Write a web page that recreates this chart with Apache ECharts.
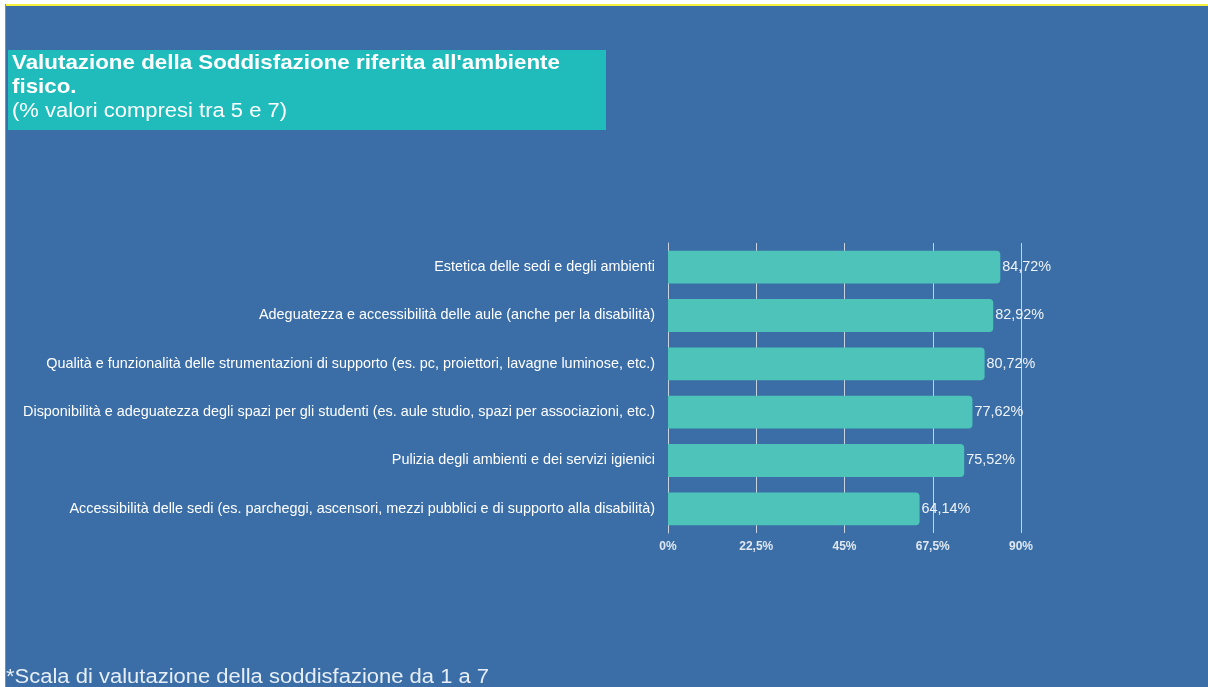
<!DOCTYPE html>
<html><head><meta charset="utf-8">
<script src="https://cdn.jsdelivr.net/npm/echarts@6/dist/echarts.min.js"></script>
<style>html,body{margin:0;padding:0;background:#fff;}#c{width:1208px;height:687px;}</style>
</head><body><div id="c"></div>
<script>
var categories = [
  "Estetica delle sedi e degli ambienti",
  "Adeguatezza e accessibilità delle aule (anche per la disabilità)",
  "Qualità e funzionalità delle strumentazioni di supporto (es. pc, proiettori, lavagne luminose, etc.)",
  "Disponibilità e adeguatezza degli spazi per gli studenti (es. aule studio, spazi per associazioni, etc.)",
  "Pulizia degli ambienti e dei servizi igienici",
  "Accessibilità delle sedi (es. parcheggi, ascensori, mezzi pubblici e di supporto alla disabilità)"
];
var values = [84.72, 82.92, 80.72, 77.62, 75.52, 64.14];
var titleLines = ["Valutazione della Soddisfazione riferita all'ambiente", "fisico."];
var subtitle = "(% valori compresi tra 5 e 7)";
var footnote = "*Scala di valutazione della soddisfazione da 1 a 7";

function fmt(v){ return String(v).replace('.', ','); }

var chart = echarts.init(document.getElementById('c'), null, {renderer:'canvas'});
var FONT = '"Liberation Sans", Arial, sans-serif';
function txt(x, y, s, font, fill, sx){
  return {type:'text', x:x, y:y, scaleX:sx, style:{text:s, fill:fill, font:font, verticalAlign:'middle', align:'left'}};
}
chart.setOption({
  backgroundColor: '#ffffff',
  animation: false,
  graphic: [
    {type:'rect', x:5, y:4, shape:{width:1203, height:683}, style:{fill:'#3b6ea6'}, z:-10},
    {type:'rect', x:5, y:4, shape:{width:1203, height:2}, style:{fill:'#f5f03c'}, z:-9},
    {type:'rect', x:5, y:4, shape:{width:1, height:683}, style:{fill:'#6f9f74'}, z:-9},
    {type:'rect', x:8, y:50, shape:{width:598, height:80}, style:{fill:'#20bcbc'}, z:-8},
    txt(12, 63, titleLines[0], 'bold 20.5px ' + FONT, '#ffffff', 1.09),
    txt(12, 87, titleLines[1], 'bold 20.5px ' + FONT, '#ffffff', 1.09),
    txt(12, 111, subtitle, '20px ' + FONT, '#ffffff', 1.1),
    txt(6, 677, footnote, '20px ' + FONT, '#e6eef7', 1.1)
  ],
  grid: {left:668, right:187, top:243, bottom:154, containLabel:false},
  xAxis: {
    type:'value', min:0, max:90, interval:22.5,
    axisLine:{show:false}, axisTick:{show:false},
    splitLine:{show:true, lineStyle:{color:'#c9d3e0', width:1}},
    axisLabel:{color:'#dfe7f1', fontSize:12, fontWeight:'bold', fontFamily:FONT, margin:8,
      formatter:function(v){ return fmt(v) + '%'; }}
  },
  yAxis: {
    type:'category', data:categories, inverse:true,
    axisLine:{show:true, lineStyle:{color:'#c9d3e0'}}, axisTick:{show:false},
    axisLabel:{color:'#ffffff', fontSize:14.4, fontFamily:FONT, margin:13}
  },
  series: [{
    type:'bar', data:values, barWidth:'68%',
    itemStyle:{color:'#4dc3b9', borderRadius:[0,4,4,0]},
    label:{show:true, position:'right', distance:2, color:'#eef3f8', fontSize:14.4, fontFamily:FONT,
      formatter:function(p){ return fmt(p.value) + '%'; }},
    z:1
  }]
});
</script></body></html>
